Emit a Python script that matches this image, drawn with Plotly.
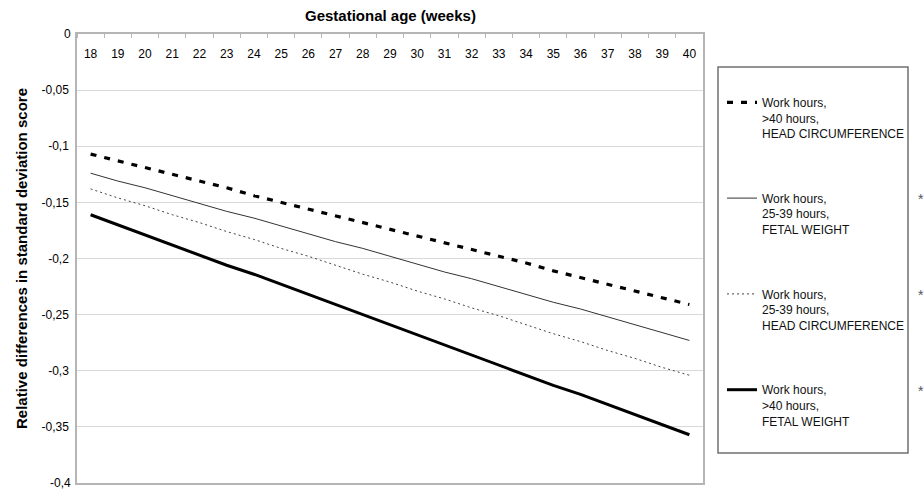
import plotly.graph_objects as go

weeks = list(range(18, 41))
week_labels = [str(w) for w in weeks]

hc_over40 = [-0.107, -0.113, -0.119, -0.125, -0.131, -0.137, -0.144, -0.150, -0.156, -0.162, -0.168, -0.174,
             -0.180, -0.186, -0.192, -0.198, -0.204, -0.211, -0.217, -0.223, -0.229, -0.235, -0.241]
fw_25_39 = [-0.124, -0.131, -0.137, -0.144, -0.151, -0.158, -0.164, -0.171, -0.178, -0.185, -0.191, -0.198,
            -0.205, -0.212, -0.218, -0.225, -0.232, -0.239, -0.245, -0.252, -0.259, -0.266, -0.273]
hc_25_39 = [-0.138, -0.146, -0.153, -0.161, -0.168, -0.176, -0.183, -0.191, -0.198, -0.206, -0.214, -0.221,
            -0.229, -0.236, -0.244, -0.251, -0.259, -0.267, -0.274, -0.282, -0.289, -0.297, -0.304]
fw_over40 = [-0.161, -0.170, -0.179, -0.188, -0.197, -0.206, -0.214, -0.223, -0.232, -0.241, -0.250, -0.259,
             -0.268, -0.277, -0.286, -0.295, -0.304, -0.313, -0.321, -0.330, -0.339, -0.348, -0.357]

series_names = [
    "Work hours,<br>>40 hours,<br>HEAD CIRCUMFERENCE",
    "Work hours,<br>25-39 hours,<br>FETAL WEIGHT",
    "Work hours,<br>25-39 hours,<br>HEAD CIRCUMFERENCE",
    "Work hours,<br>>40 hours,<br>FETAL WEIGHT",
]
series_values = [hc_over40, fw_25_39, hc_25_39, fw_over40]
series_marks = ["", "*", "*", "*"]

y_tickvals = [0, -0.05, -0.1, -0.15, -0.2, -0.25, -0.3, -0.35, -0.4]
y_ticktext = ["0", "-0,05", "-0,1", "-0,15", "-0,2", "-0,25", "-0,3", "-0,35", "-0,4"]

x_title = "Gestational age (weeks)"
y_title = "Relative differences in standard deviation score"

FONT = "Arial, Liberation Sans, sans-serif"
styles = [
    dict(color="black", width=3.2, dash="6px,8px"),
    dict(color="#333333", width=1, dash="solid"),
    dict(color="#444444", width=1, dash="2px,3px"),
    dict(color="black", width=3, dash="solid"),
]

fig = go.Figure()
for i, (name, vals) in enumerate(zip(series_names, series_values)):
    fig.add_trace(go.Scatter(
        x=weeks, y=vals, mode="lines", name=name, line=styles[i],
        legendgroup=f"g{i}", hoverinfo="skip"))

W, H = 924, 489
L, R, T, B = 77, 703, 34, 483

def px_x(p):
    return (p - L) / (R - L)

def px_y(p):
    return (B - p) / (B - T)

fig.update_layout(
    width=W, height=H,
    margin=dict(l=L, r=W - R, t=T, b=H - B, pad=0, autoexpand=False),
    paper_bgcolor="white", plot_bgcolor="white",
    font=dict(family=FONT, size=12, color="black"),
    showlegend=True,
    legend=dict(
        x=px_x(722), y=px_y(88), xanchor="left", yanchor="top",
        bgcolor="rgba(0,0,0,0)", borderwidth=0,
        font=dict(family=FONT, size=12, color="#111111"),
        valign="top", tracegroupgap=46, traceorder="grouped",
    ),
    xaxis=dict(
        range=[17.5, 40.5], side="top", automargin=False,
        tickmode="array", tickvals=weeks, ticktext=week_labels,
        ticklabelposition="inside", ticks="", ticklabelstandoff=15,
        showgrid=False, zeroline=False,
        showline=True, linecolor="#b5b5b5", linewidth=1.5, mirror=True,
        minor=dict(tickmode="linear", tick0=17.5, dtick=1, ticks="inside",
                   ticklen=4, tickcolor="#b5b5b5", showgrid=False),
        tickfont=dict(family=FONT, size=12, color="black"),
        fixedrange=True,
    ),
    yaxis=dict(
        range=[-0.4, 0], tickmode="array", tickvals=y_tickvals, ticktext=y_ticktext,
        automargin=False,
        showgrid=True, gridcolor="#d9d9d9", gridwidth=1, zeroline=False,
        showline=True, linecolor="#b5b5b5", linewidth=1.5, mirror=True,
        ticks="", ticklabelstandoff=4,
        tickfont=dict(family=FONT, size=12, color="black"),
        title=dict(text=f"<b>{y_title}</b>", standoff=10,
                   font=dict(family=FONT, size=15, color="black")),
        fixedrange=True,
    ),
    shapes=[dict(type="rect", xref="paper", yref="paper",
                 x0=px_x(718), x1=px_x(908), y0=px_y(453), y1=px_y(67),
                 line=dict(color="#707070", width=1.5), fillcolor="rgba(0,0,0,0)")],
)

# x-axis title placed above the top axis
fig.add_annotation(x=0.5, y=px_y(15), xref="paper", yref="paper", text=f"<b>{x_title}</b>",
                   showarrow=False, xanchor="center", yanchor="middle",
                   font=dict(family=FONT, size=15, color="black"))

# end tick labels "0" and "-0,4" are dropped by plotly at the plot edges; draw them as text
for idx in (0, len(y_tickvals) - 1):
    fig.add_annotation(x=0, y=y_tickvals[idx], xref="paper", yref="y", text=y_ticktext[idx],
                       showarrow=False, xanchor="right", yanchor="middle", xshift=-4,
                       font=dict(family=FONT, size=12, color="black"))

mark_y = [101, 199, 295, 391]
for m, yy in zip(series_marks, mark_y):
    if m:
        fig.add_annotation(x=px_x(921), y=px_y(yy), xref="paper", yref="paper",
                           text=m, showarrow=False, xanchor="center", yanchor="middle",
                           font=dict(family=FONT, size=14, color="#555555"))

fig.write_html("out.html")
